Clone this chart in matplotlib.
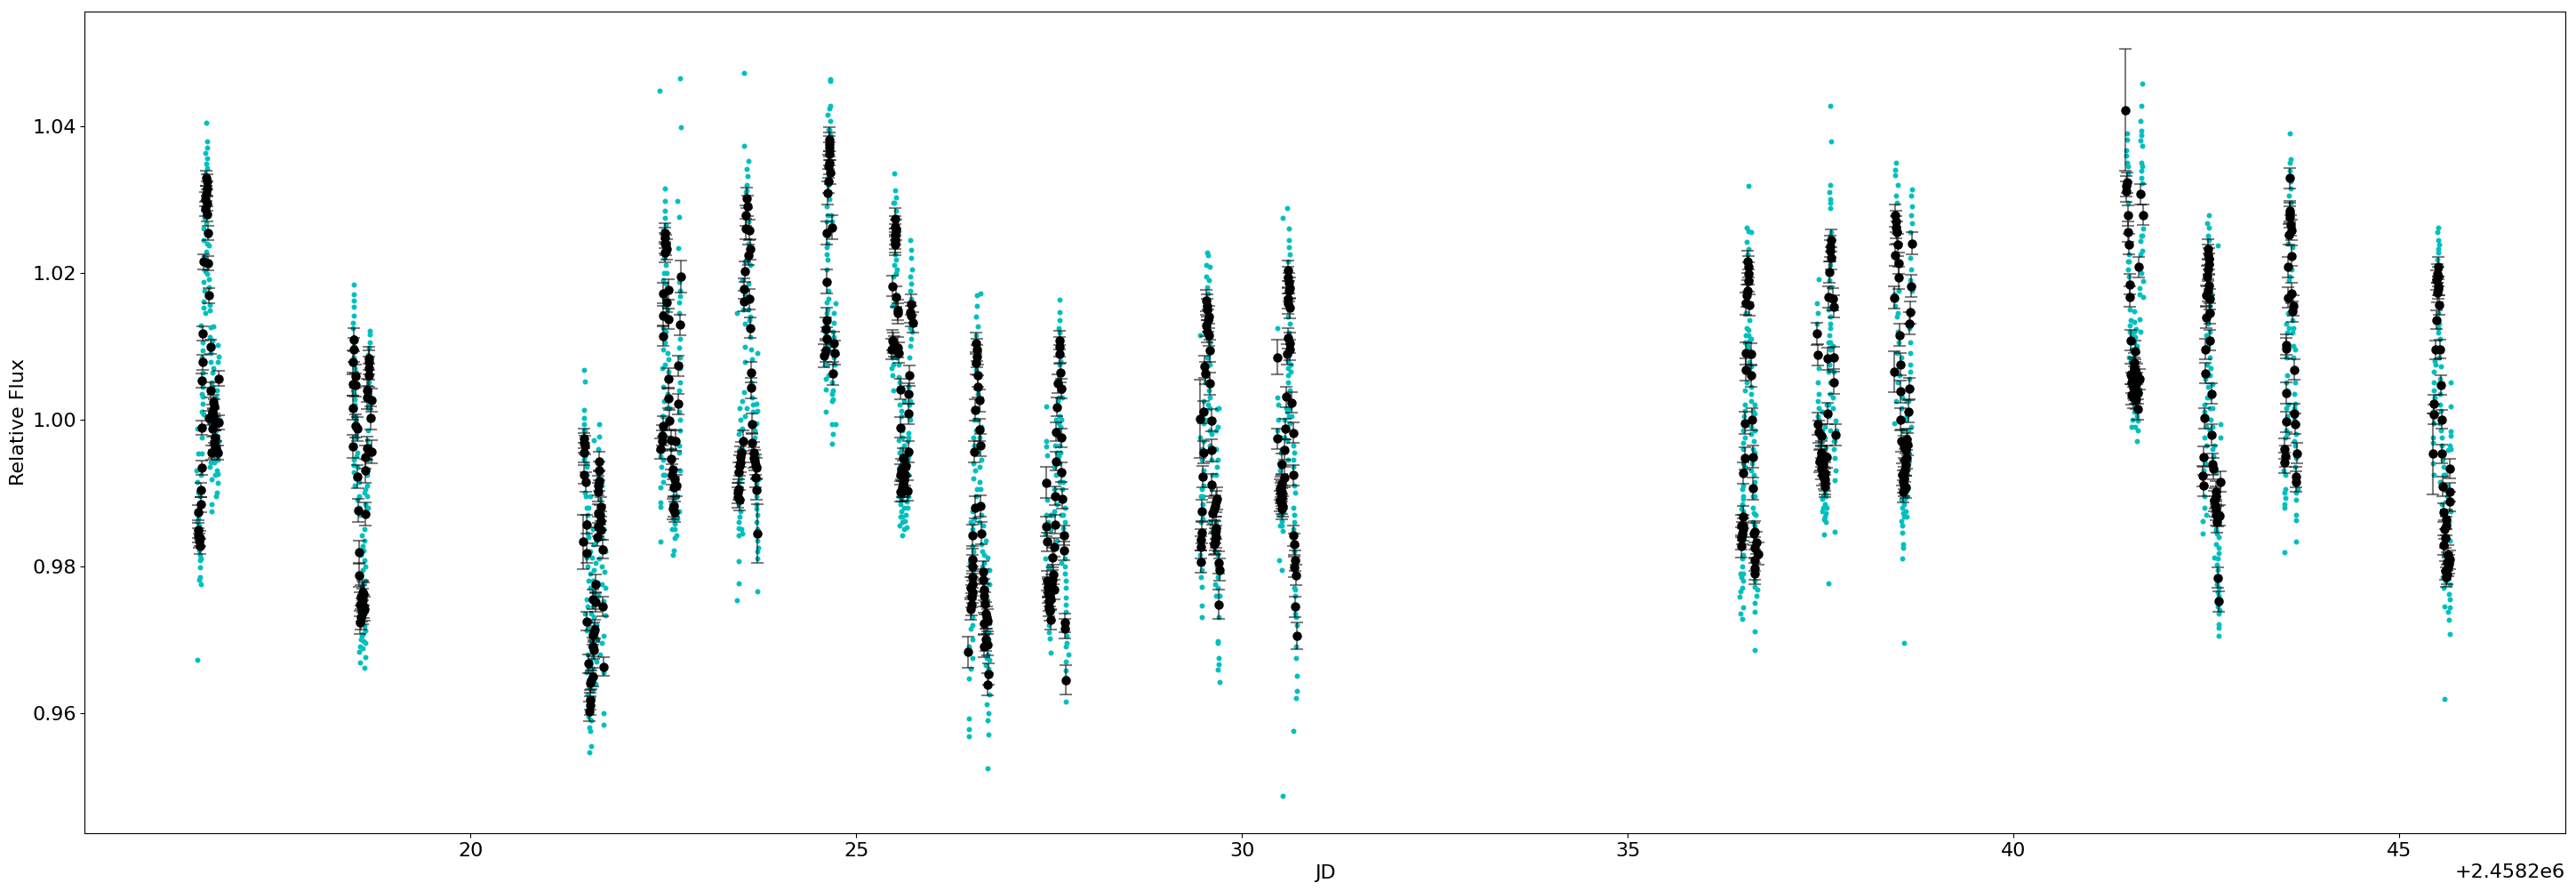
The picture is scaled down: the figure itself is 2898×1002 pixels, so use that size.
import numpy as np
import matplotlib
matplotlib.use("Agg")
import matplotlib.pyplot as plt

# Flat lists of pairs: day (x100, relative to 2458200), flux (x10000)
c16 = [1657,10405,1658,10379,1659,10370,1656,10363,1658,10356,1657,10349,1658,10343,1656,10335,1659,10325,1655,10315,1658,10305,1656,10295,1659,10285,1655,10278,1657,10267,1654,10260,1660,10250,1654,10245,1661,10237,1657,10229,1655,10222,1656,10202,1661,10191,1654,10187,1661,10180,1654,10161,1654,10152,1662,10156,1662,10149,1650,10128,1663,10126,1667,10127,1662,10112,1665,10107,1653,10094,1672,10101,1673,10086,1672,10079,1663,10078,1665,10064,1653,10064,1664,10050,1653,10045,1671,10040,1653,10031,1653,10021,1651,10010,1654,10007,1646,9988,1652,9975,1647,9953,1651,9953,1645,9931,1672,9926,1671,9931,1663,9942,1668,9942,1664,9918,1672,9913,1646,9915,1647,9900,1671,9900,1670,9895,1664,9885,1664,9875,1647,9865,1648,9855,1648,9822,1649,9815,1649,9808,1649,9799,1649,9785,1650,9776,1648,9781,1646,9672,
       1655,10275,1659,10240,1656,10210,1658,10198,1655,10175,1660,10170,1656,10145,1653,10105,1663,10090,1652,10085,1667,10070,1653,10055,1665,10045,1670,10030,1652,10035,1668,10010,1674,10000,1663,9995,1670,9985,1665,9975,1673,9970,1667,9965,1672,9945,1662,9935,1669,9925,1650,9925,1649,9895,1648,9880,1646,9860,1648,9840,1647,9830,1650,9810]
k16 = [1657,10329,1658,10324,1657,10308,1659,10294,1656,10287,1660,10254,1654,10215,1660,10213,1661,10169,1653,10117,1663,10099,1653,10078,1673,10056,1652,10053,1663,10040,1667,10024,1668,10018,1666,10005,1673,9996,1661,10002,1652,9989,1665,9987,1669,9975,1670,9961,1664,9955,1672,9955,1651,9934,1650,9904,1650,9884,1647,9873,1647,9849,1647,9842,1649,9838,1649,9827,
       1658,10315,1656,10300,1658,10280,1665,10010,1669,9995,1668,9968,1668,9958,1648,9835]

c18 = [1849,10184,1849,10171,1849,10162,1849,10153,1849,10142,1847,10132,1847,10124,1869,10121,1869,10116,1869,10105,1868,10098,1848,10112,1850,10095,1867,10088,1850,10070,1848,10050,1849,10035,1868,10035,1867,10015,1850,10020,1851,10005,1849,9992,1868,10000,1848,9975,1852,9975,1867,9985,1868,9965,1852,9950,1849,9945,1867,9945,1853,9935,1849,9928,1866,9925,1855,9915,1850,9910,1866,9910,1862,9900,1866,9895,1853,9890,1864,9885,1867,9880,1857,9870,1862,9850,1859,9842,1862,9835,1860,9828,1858,9815,1862,9808,1864,9800,1858,9785,1860,9775,1862,9762,1861,9748,1859,9735,1862,9718,1860,9708,1858,9700,1863,9695,1857,9690,1860,9688,1856,9683,1864,9676,1857,9669,1862,9661,
       1848,10100,1849,10085,1851,10065,1847,10040,1850,10028,1866,10045,1869,10070,1868,10050,1869,10020,1848,10005,1851,9998,1866,9972,1850,9965,1853,9955,1867,9955,1848,9938,1851,9920,1864,9905,1855,9895,1856,9880,1861,9822,1860,9795,1863,9780,1859,9770,1861,9730,1860,9725,1863,9712,1859,9705,1861,9698]
k18 = [1849,10109,1847,10078,1851,10059,1847,10048,1851,10047,1847,10016,1851,9991,1853,9987,1847,9963,1853,9922,1854,9876,1855,9819,1855,9788,1860,9764,1860,9753,1857,9748,1862,9742,1860,9737,1857,9723,1868,10083,1868,10078,1868,10060,1866,10030,1872,10026,1870,10002,1866,9961,1872,9956,1864,9949,1864,9930,1864,9871,
       1858,9758,1861,9745,1859,9740,1858,9730,1861,9762,1849,10095,1868,10070,1866,10040]

c21 = [2147,10068,2148,10052,2147,10013,2147,10002,2167,9994,2166,9977,2147,9994,2147,9985,2160,9972,2147,9960,2165,9960,2148,9950,2149,9940,2168,9945,2150,9925,2165,9925,2151,9912,2170,9910,2148,9900,2155,9895,2168,9890,2150,9880,2170,9875,2152,9870,2151,9860,2165,9862,2158,9850,2172,9850,2153,9840,2170,9838,2160,9830,2155,9820,2175,9820,2150,9812,2162,9805,2170,9800,2155,9790,2173,9792,2158,9780,2170,9775,2155,9770,2165,9760,2175,9770,2150,9755,2172,9752,2158,9745,2175,9733,2148,9735,2155,9725,2163,9720,2172,9705,2150,9712,2160,9705,2155,9690,2170,9695,2168,9680,2152,9680,2163,9670,2158,9660,2172,9655,2150,9655,2155,9640,2162,9640,2152,9625,2158,9620,2155,9610,2172,9600,2172,9584,2156,9590,2154,9580,2155,9575,2156,9555,2154,9546,
       2148,9985,2149,9965,2147,9945,2150,9935,2167,9935,2169,9920,2166,9905,2149,9895,2153,9880,2167,9865,2166,9850,2152,9845,2163,9835,2157,9812,2167,9810,2152,9800,2160,9795,2153,9780,2164,9778,2160,9765,2152,9745,2156,9735,2160,9730,2153,9715,2164,9700,2156,9698,2158,9675,2153,9660,2160,9650,2154,9635,2157,9630,2155,9600,2153,9595]
k21 = [2147,9974,2147,9968,2147,9955,2147,9925,2149,9915,2150,9857,2150,9818,2166,9943,2167,9930,2167,9916,2165,9901,2169,9881,2165,9872,2169,9862,2165,9854,2169,9849,2164,9840,2171,9823,2162,9776,2158,9755,2162,9751,2171,9745,2151,9725,2161,9714,2158,9706,2160,9686,2153,9667,2172,9663,2158,9649,2155,9641,2155,9618,2154,9602,
       2148,9965,2165,9910,2168,9870,2160,9710,2158,9690,2156,9645,2155,9610]

c22 = [2245,10448,2271,10465,2273,10399,2252,10315,2252,10298,2268,10298,2270,10276,2252,10285,2252,10275,2253,10265,2250,10258,2269,10233,2251,10220,2253,10210,2254,10200,2250,10190,2270,10188,2272,10168,2251,10155,2255,10150,2270,10145,2249,10125,2253,10120,2272,10110,2270,10098,2250,10095,2255,10090,2271,10085,2252,10075,2248,10070,2254,10055,2250,10045,2272,10050,2251,10025,2254,10015,2270,10010,2250,10005,2256,9995,2248,9985,2272,9985,2258,9975,2246,9950,2270,9955,2247,9935,2252,9925,2272,9930,2246,9907,2262,9905,2268,9895,2246,9887,2246,9881,2263,9890,2270,9875,2262,9865,2261,9850,2267,9842,2246,9833,2264,9838,2263,9821,2262,9816,
       2253,10228,2251,10200,2253,10185,2251,10165,2271,10175,2270,10160,2252,10105,2256,10082,2271,10070,2270,10040,2256,10065,2255,10035,2258,10015,2248,10005,2271,10000,2248,9975,2270,9965,2249,9945,2249,9925,2260,9960,2263,9895,2266,9885,2260,9885,2249,9915,2265,9905,2261,9875,2268,9865,2264,9858,2265,9850]
k22 = [2252,10254,2252,10240,2254,10232,2256,10177,2250,10172,2250,10141,2256,10137,2271,10129,2249,10114,2269,10073,2257,10056,2257,10029,2269,10021,2258,9999,2249,9991,2260,9972,2266,9971,2248,9971,2246,9960,2260,9946,2261,9925,2264,9918,2267,9910,2262,9878,2265,9874,
       2252,10248,2253,10238,2252,10228,2254,10160,2248,9978,2262,9932,2263,9908,2263,9882]

c23 = [2354,10472,2354,10373,2360,10352,2358,10341,2359,10332,2358,10320,2357,10310,2360,10240,2355,10215,2362,10210,2352,10190,2360,10185,2353,10150,2345,10145,2362,10140,2356,10130,2363,10112,2356,10099,2372,10090,2356,10079,2365,10082,2364,10050,2354,10037,2365,10030,2352,10025,2370,10022,2349,10015,2366,10010,2356,10005,2350,10000,2372,10012,2370,9995,2352,9988,2348,9980,2368,9975,2352,9960,2372,9950,2350,9920,2373,9918,2348,9885,2370,9885,2350,9875,2372,9870,2347,9860,2370,9860,2351,9850,2352,9845,2347,9842,2372,9835,2373,9825,2372,9810,2347,9807,2347,9777,2372,9766,2345,9753,
       2358,10312,2360,10270,2359,10215,2356,10170,2360,10150,2361,10135,2364,10095,2358,10015,2366,10020,2350,9985,2368,9985,2349,9960,2366,9970,2348,9915,2370,9912,2349,9895,2371,9895,2371,9878,2349,9868,2372,9850,2348,9852,2370,9842,2372,9820]
k23 = [2358,10302,2359,10291,2357,10278,2357,10260,2361,10258,2362,10232,2360,10224,2356,10202,2354,10178,2354,10161,2361,10164,2363,10125,2364,10064,2364,10043,2365,9994,2353,9971,2365,9968,2350,9949,2367,9955,2368,9944,2349,9937,2348,9928,2370,9934,2369,9921,2371,9904,2346,9900,2346,9894,
       2351,9955,2350,9942,2367,9948,2369,9938,2348,9905,2349,9890]

c24 = [2466,10464,2466,10462,2466,10427,2465,10424,2463,10415,2466,10407,2465,10395,2466,10388,2464,10320,2462,10290,2463,10278,2462,10270,2467,10278,2468,10270,2463,10240,2461,10225,2463,10218,2462,10205,2464,10165,2461,10160,2473,10158,2471,10145,2463,10150,2461,10130,2471,10132,2470,10120,2471,10112,2460,10115,2465,10100,2472,10075,2459,10075,2464,10060,2468,10050,2460,10041,2470,10040,2470,10027,2469,10025,2460,10010,2469,9994,2473,9993,2470,9980,2469,9967,
       2464,10395,2465,10380,2464,10330,2465,10300,2463,10250,2462,10235,2464,10175,2462,10145,2461,10105,2471,10085,2460,10055,2469,10035,2461,10075]
k24 = [2465,10375,2465,10370,2464,10345,2466,10337,2463,10309,2468,10262,2461,10254,2462,10188,2461,10136,2460,10123,2471,10104,2460,10094,2472,10091,2458,10087,2470,10063,
       2465,10382,2465,10362,2465,10350,2464,10325,2462,10110]

c25 = [2549,10336,2550,10312,2551,10303,2548,10295,2551,10285,2550,10225,2552,10218,2549,10210,2553,10205,2548,10195,2570,10244,2571,10231,2571,10220,2572,10205,2570,10195,2571,10185,2570,10175,2547,10155,2572,10120,2571,10110,2570,10100,2547,10085,2555,10075,2546,10070,2569,10085,2555,10058,2568,10045,2548,10040,2562,10025,2570,10025,2556,10020,2570,10000,2558,10005,2559,9985,2567,9982,2555,9972,2568,9975,2562,9965,2558,9960,2568,9950,2556,9935,2568,9925,2555,9895,2567,9895,2557,9885,2565,9888,2558,9875,2564,9870,2560,9860,2556,9855,2565,9853,2562,9850,2559,9842,
       2549,10295,2551,10270,2552,10200,2550,10160,2571,10165,2570,10125,2548,10075,2553,10085,2547,10060,2556,10050,2569,10020,2558,10012,2560,9975,2566,9970,2556,9955,2560,9942,2566,9945,2560,9895,2562,9880,2558,9890,2566,9880,2557,9868,2560,9868,2563,9862]
k25 = [2550,10274,2550,10263,2550,10252,2550,10242,2550,10238,2547,10182,2552,10167,2554,10149,2554,10145,2571,10157,2570,10146,2571,10141,2573,10132,2547,10108,2546,10096,2554,10098,2555,10091,2569,10060,2557,10041,2567,10035,2568,10008,2557,9989,2567,9956,2561,9947,2564,9937,2557,9925,2563,9924,2561,9914,2557,9902,2566,9903,2560,9902,
       2551,10258,2550,10246,2548,10105,2549,10100,2558,9932,2561,9930,2562,9908,2559,9908,2562,9918]

c26 = [2661,10172,2656,10169,2656,10155,2655,10140,2657,10127,2655,10115,2653,10000,2656,10010,2660,10030,2656,10000,2662,9990,2653,9965,2652,9940,2662,9945,2652,9920,2660,9915,2655,9895,2650,9875,2662,9870,2648,9860,2664,9855,2650,9850,2651,9828,2668,9835,2652,9820,2663,9820,2670,9812,2647,9805,2665,9805,2652,9795,2672,9795,2668,9782,2650,9775,2672,9775,2650,9730,2672,9722,2648,9715,2668,9710,2651,9700,2671,9700,2646,9690,2670,9680,2672,9672,2648,9660,2668,9665,2646,9647,2672,9625,2669,9612,2671,9600,2670,9590,2646,9592,2646,9578,2671,9570,2646,9568,2670,9525,
       2657,10095,2655,10068,2657,10035,2658,10015,2660,9975,2655,9985,2652,9975,2658,9955,2660,9935,2654,9930,2661,9905,2656,9905,2653,9865,2660,9860,2651,9858,2662,9830,2650,9795,2665,9815,2663,9800,2652,9755,2669,9755,2671,9710,2650,9720,2668,9698,2650,9675,2669,9675,2671,9660]
k26 = [2655,10104,2656,10086,2655,10077,2658,10060,2657,10045,2660,10026,2654,10013,2660,9986,2653,9956,2661,9965,2661,9882,2654,9880,2651,9842,2662,9845,2651,9809,2664,9792,2651,9785,2664,9781,2648,9770,2665,9768,2649,9759,2667,9749,2648,9742,2668,9736,2670,9726,2666,9722,2670,9693,2665,9691,2671,9653,2670,9639,
       2650,9775,2649,9748,2650,9765,2666,9760,2669,9730,2668,9700,2656,10095,2651,9800]

c27 = [2764,10163,2763,10146,2764,10135,2762,10125,2763,10118,2764,10075,2767,10030,2762,10030,2746,10018,2766,10000,2762,9995,2760,9985,2763,9965,2746,9971,2746,9963,2758,9965,2747,9951,2762,9950,2764,9940,2757,9935,2763,9915,2768,9915,2756,9905,2767,9905,2747,9890,2770,9880,2768,9870,2746,9870,2752,9870,2770,9860,2745,9845,2768,9852,2750,9835,2760,9835,2770,9810,2745,9810,2752,9800,2770,9800,2755,9790,2772,9780,2771,9770,2747,9758,2771,9757,2771,9748,2772,9738,2750,9720,2773,9705,2751,9702,2773,9695,2752,9682,2775,9680,2772,9670,2771,9658,2772,9648,2772,9615,
       2762,10110,2765,10080,2763,10055,2761,10025,2764,10005,2759,10000,2765,9990,2762,9975,2760,9955,2765,9955,2759,9925,2767,9925,2760,9885,2756,9875,2766,9870,2748,9860,2755,9870,2752,9850,2766,9805,2748,9800,2770,9790,2751,9750,2754,9740,2748,9735,2750,9710,2771,9690]
k27 = [2763,10108,2763,10099,2764,10089,2765,10064,2761,10049,2766,10042,2760,10017,2759,9983,2766,9975,2759,9943,2766,9928,2758,9896,2767,9892,2746,9854,2758,9857,2769,9842,2747,9833,2757,9826,2769,9821,2754,9812,2755,9789,2747,9780,2753,9776,2749,9763,2756,9768,2750,9745,2751,9739,2752,9727,2770,9723,2770,9715,
       2749,9772,2752,9755,2750,9752,2754,9782,2748,9770,2751,9758]

c29 = [2955,10228,2956,10224,2954,10210,2958,10208,2954,10195,2957,10190,2955,10180,2956,10172,2945,10115,2958,10105,2955,10085,2958,10030,2950,10025,2956,10020,2948,10010,2958,10015,2970,10015,2967,10014,2950,9995,2969,9990,2958,9985,2966,9985,2946,9975,2950,9970,2958,9965,2966,9960,2948,9945,2968,9945,2967,9935,2950,9930,2966,9925,2948,9905,2960,9905,2947,9895,2949,9885,2958,9860,2965,9820,2946,9815,2967,9800,2947,9785,2970,9790,2948,9772,2965,9775,2948,9746,2966,9760,2968,9750,2970,9745,2948,9731,2970,9730,2968,9698,2969,9695,2970,9675,2970,9666,2969,9659,2971,9642,
       2956,10085,2958,10075,2952,10050,2957,10040,2951,10000,2956,10000,2960,9980,2948,9960,2960,9945,2950,9910,2962,9925,2949,9895,2962,9850,2966,9860,2947,9860,2949,9865,2968,9815,2948,9795,2969,9785,2968,9770,2971,9760]
k29 = [2954,10162,2955,10150,2957,10140,2954,10128,2957,10115,2958,10094,2951,10072,2952,10063,2958,10049,2950,10010,2960,9999,2950,9955,2961,9958,2949,9922,2961,9911,2967,9892,2965,9882,2948,9875,2962,9872,2948,9846,2965,9846,2947,9836,2965,9837,2947,9826,2965,9832,2947,9806,2970,9805,2971,9795,
       2955,10155,2956,10135,2955,10120,2966,9888,2964,9878,2966,9852,2966,9840,2964,9830]

c30 = [3058,10288,3053,10275,3061,10260,3061,10245,3061,10235,3062,10225,3060,10215,3062,10130,3046,10125,3060,10080,3063,10065,3046,10030,3060,10050,3062,10040,3047,10020,3058,10010,3064,10005,3047,10000,3055,10000,3062,9995,3046,9985,3058,9970,3066,9965,3050,9955,3068,9955,3048,9940,3060,9945,3066,9935,3068,9910,3048,9900,3069,9900,3048,9870,3067,9880,3052,9862,3049,9855,3053,9848,3068,9860,3066,9850,3048,9808,3068,9820,3069,9768,3051,9795,3069,9760,3070,9730,3071,9720,3070,9690,3070,9675,3071,9650,3071,9630,3070,9620,3067,9575,3053,9487,
       3060,10140,3061,10118,3063,10075,3060,10070,3059,10060,3062,10015,3057,10015,3061,10005,3050,9975,3055,9975,3052,9960,3066,9945,3049,9930,3068,9925,3051,9870,3054,9875,3049,9870,3052,9855,3068,9870,3069,9790,3068,9770,3069,9735,3071,9705]
k30 = [3060,10203,3060,10194,3061,10186,3062,10179,3059,10158,3062,10152,3060,10111,3062,10104,3062,10095,3058,10089,3057,10031,3064,10023,3056,9987,3066,9982,3046,9974,3055,9959,3052,9939,3066,9924,3055,9921,3051,9912,3049,9905,3052,9896,3049,9889,3053,9881,3051,9885,3067,9842,3068,9830,3069,9808,3068,9799,3070,9788,3069,9745,
       3061,10175,3060,10165,3050,9900,3052,9892,3050,9908,3051,9878,3052,9902]

c36 = [3656,10319,3654,10261,3657,10257,3660,10255,3654,10242,3656,10232,3655,10225,3653,10145,3658,10135,3654,10125,3657,10115,3652,10105,3660,10110,3655,10100,3660,10072,3654,10050,3660,10045,3652,10020,3660,10025,3664,10020,3652,10012,3665,10008,3660,9980,3652,9975,3663,9970,3650,9960,3665,9955,3652,9935,3660,9930,3650,9910,3663,9925,3650,9895,3665,9895,3648,9885,3662,9880,3650,9875,3666,9870,3647,9878,3648,9868,3662,9860,3664,9855,3650,9835,3648,9810,3648,9800,3646,9790,3665,9780,3664,9772,3649,9780,3648,9770,3646,9766,3668,9768,3667,9760,3645,9759,3665,9750,3650,9744,3665,9738,3646,9736,3648,9728,3664,9711,3664,9686,
       3654,10145,3656,10122,3658,10108,3653,10115,3656,10095,3658,10078,3652,10040,3660,10035,3651,10005,3662,10012,3660,9990,3650,9985,3664,9985,3650,9968,3662,9960,3649,9940,3661,9940,3650,9925,3664,9915,3648,9905,3662,9895,3649,9892,3663,9872,3665,9820,3648,9825,3649,9815,3663,9810,3649,9790,3666,9790,3647,9785]
k36 = [3655,10215,3656,10199,3656,10189,3654,10169,3653,10158,3658,10156,3653,10090,3660,10089,3653,10068,3660,10060,3652,9995,3661,10000,3652,9947,3662,9949,3650,9927,3662,9906,3649,9867,3647,9855,3650,9855,3648,9845,3647,9827,3665,9847,3663,9844,3667,9832,3669,9817,3665,9797,3664,9790,
       3656,10208,3655,10175,3647,9838,3649,9850,3664,9825,3665,9808]

c37 = [3763,10427,3764,10379,3763,10320,3761,10310,3763,10300,3762,10295,3763,10288,3764,10255,3762,10250,3761,10190,3747,10191,3763,10180,3762,10140,3745,10158,3746,10145,3763,10130,3761,10115,3745,10130,3763,10105,3766,10100,3747,10070,3760,10065,3767,10065,3746,10050,3748,10035,3746,10025,3766,10030,3758,10020,3748,10015,3752,10010,3760,10005,3748,10000,3756,9990,3769,9998,3770,9985,3752,9985,3768,9970,3756,9975,3767,9960,3768,9948,3769,9930,3768,9917,3755,9900,3752,9892,3756,9885,3752,9875,3758,9880,3754,9864,3757,9860,3768,9847,3754,9843,3760,9777,
       3763,10210,3760,10150,3762,10125,3760,10105,3763,10095,3761,10075,3762,10050,3763,10035,3760,10020,3766,10015,3746,10005,3762,9985,3750,9968,3757,9962,3767,9970,3749,9965,3755,9940,3753,9895,3757,9895,3755,9868,3753,9880,3757,9872]
k37 = [3764,10244,3763,10236,3762,10230,3764,10220,3761,10201,3760,10167,3766,10164,3767,10154,3745,10117,3746,10088,3759,10083,3767,10084,3767,10050,3759,10008,3746,9994,3747,9983,3769,9979,3751,9978,3751,9955,3758,9949,3749,9943,3751,9933,3756,9927,3755,9918,3755,9909,
       3750,9945,3752,9925,3753,9938,3751,9950,3754,9920,3756,9913]

c38 = [3858,9696,3848,10350,3847,10340,3847,10333,3850,10320,3868,10313,3867,10305,3848,10305,3849,10295,3868,10290,3867,10278,3868,10268,3866,10255,3866,10220,3867,10205,3847,10155,3845,10170,3866,10190,3868,10175,3850,10145,3865,10125,3850,10120,3849,10090,3866,10105,3866,10090,3855,10085,3866,10065,3850,10050,3848,10025,3865,10055,3856,10030,3862,10025,3860,10000,3845,9995,3867,9990,3864,9985,3862,9962,3860,9950,3864,9940,3857,9900,3862,9895,3858,9885,3860,9875,3856,9880,3861,9868,3855,9862,3856,9855,3856,9846,3857,9830,3857,9825,3856,9811,
       3851,10175,3849,10140,3851,10105,3866,10075,3852,10060,3864,10025,3855,10015,3862,10005,3856,9985,3858,9960,3864,9955,3856,9945,3861,9925,3859,9892,3863,9905,3855,9890,3858,9868,3857,9872]
k38 = [3847,10278,3848,10262,3850,10238,3847,10224,3851,10213,3851,10193,3868,10240,3867,10182,3845,10166,3866,10146,3865,10131,3852,10115,3853,10075,3853,10038,3865,10042,3864,10011,3854,10000,3855,9971,3862,9973,3863,9966,3861,9948,3860,9938,3856,9925,3858,9910,3857,9902,
       3848,10270,3849,10255,3860,9958,3858,9963,3859,9930,3858,9920,3859,9945,3857,9915,3860,9908]

c41 = [4167,10458,4166,10427,4164,10407,4166,10393,4166,10387,4165,10380,4167,10373,4166,10350,4167,10345,4166,10339,4166,10329,4167,10322,4147,10390,4147,10381,4146,10367,4146,10360,4147,10350,4148,10345,4168,10260,4167,10250,4165,10243,4167,10230,4150,10225,4165,10225,4148,10215,4149,10205,4150,10195,4168,10189,4163,10179,4168,10167,4163,10170,4151,10150,4157,10147,4163,10137,4157,10133,4151,10128,4159,10123,4165,10120,4153,10115,4158,10112,4150,10085,4152,10078,4160,10005,4154,10000,4161,9998,4153,9990,4158,9990,4161,9985,4160,9971,
       4148,10335,4149,10295,4166,10250,4150,10215,4166,10200,4152,10135,4153,10095,4156,10105,4151,10120,4160,10100,4157,10120,4160,10070,4155,10085,4163,10040,4158,10020,4156,10010]
k41 = [4147,10323,4146,10318,4146,10311,4148,10278,4148,10256,4150,10239,4151,10184,4151,10167,4165,10307,4168,10279,4162,10208,4152,10108,4158,10093,4157,10077,4152,10062,4160,10062,4163,10055,4153,10050,4155,10043,4153,10034,4161,10036,4159,10028,4161,10014,
       4158,10068,4156,10058,4159,10048,4157,10040,4160,10050,4155,10030,4158,10035,4156,10070]

c42 = [4253,10278,4251,10267,4253,10262,4252,10250,4265,10237,4253,10245,4254,10225,4250,10195,4257,10170,4252,10130,4255,10120,4250,10115,4254,10085,4251,10075,4256,10070,4249,10055,4252,10045,4258,10048,4255,10030,4248,10020,4258,10015,4248,10010,4255,10015,4250,9990,4258,9990,4268,9994,4254,9985,4268,9975,4260,9965,4247,9975,4250,9965,4246,9930,4262,9928,4247,9895,4248,9880,4250,9870,4245,9861,4245,9844,4262,9848,4266,9840,4263,9830,4266,9825,4260,9812,4266,9818,4264,9802,4265,9795,4266,9770,4265,9765,4266,9735,4266,9721,4266,9716,4266,9705,
       4252,10190,4255,10180,4254,10155,4252,10100,4254,10060,4251,10030,4256,10000,4258,9960,4249,9940,4259,9950,4248,9910,4262,9850,4264,9845,4265,9810,4264,9775,4266,9760,4265,9745,4267,9740]
k42 = [4252,10232,4253,10219,4252,10205,4253,10183,4250,10169,4254,10164,4255,10145,4250,10139,4255,10108,4249,10096,4249,10063,4257,10035,4247,10002,4257,9979,4246,9949,4258,9939,4259,9933,4245,9923,4268,9915,4246,9910,4262,9902,4261,9892,4260,9889,4262,9877,4267,9869,4264,9860,4265,9784,4266,9752,
       4252,10225,4253,10212,4251,10195,4252,10175,4262,9895,4261,9882,4263,9870,4265,9868]

c43 = [4358,10390,4359,10355,4358,10350,4358,10339,4359,10325,4357,10305,4359,10295,4356,10240,4362,10235,4357,10190,4356,10145,4362,10135,4354,10130,4363,10125,4355,10118,4362,10118,4354,10085,4363,10100,4355,10060,4365,10095,4354,10050,4365,10050,4356,10020,4365,10022,4354,10015,4364,10000,4355,9980,4366,9980,4352,9975,4364,9970,4350,9930,4352,9905,4351,9900,4368,9905,4352,9893,4366,9900,4351,9885,4366,9890,4351,9880,4366,9870,4366,9863,4351,9819,4366,9833,
       4359,10315,4358,10270,4360,10205,4358,10195,4357,10125,4363,10085,4355,10040,4364,10035,4355,10005,4364,10015,4353,9985,4365,9965,4352,9950,4366,9948,4352,9925,4365,9935]
k43 = [4358,10329,4358,10284,4358,10281,4360,10258,4357,10252,4360,10223,4356,10208,4361,10172,4356,10166,4363,10155,4362,10147,4354,10102,4353,10097,4364,10068,4353,10036,4364,10008,4353,9997,4365,9994,4351,9960,4367,9954,4351,9941,4366,9922,4366,9915,
       4358,10276,4359,10265,4352,9950]

c45 = [4550,10261,4549,10255,4550,10244,4552,10238,4550,10232,4551,10227,4549,10218,4552,10130,4551,10118,4553,10110,4547,10075,4554,10072,4545,10065,4553,10055,4545,10050,4545,10040,4553,10035,4546,10030,4553,10020,4544,10010,4554,10012,4553,9995,4567,10050,4567,10018,4567,9984,4567,9978,4567,9960,4563,9958,4544,9975,4555,9975,4544,9968,4565,9965,4544,9940,4545,9925,4553,9915,4558,9925,4562,9910,4555,9885,4567,9875,4560,9780,4556,9785,4565,9775,4558,9770,4564,9762,4565,9755,4559,9745,4565,9744,4563,9738,4564,9727,4565,9708,4559,9619,
       4551,10145,4550,10125,4552,10085,4546,10080,4553,10000,4545,9995,4554,9985,4555,9965,4556,9945,4558,9935,4557,9905,4560,9925,4562,9895,4564,9860,4562,9840,4558,9815,4565,9835]
k45 = [4550,10208,4549,10199,4548,10190,4551,10182,4549,10173,4552,10156,4548,10136,4547,10095,4553,10096,4554,10047,4545,10021,4545,10007,4555,10000,4555,9953,4566,9933,4556,9909,4566,9901,4565,9888,4558,9873,4561,9864,4561,9855,4560,9838,4558,9829,4563,9816,4565,9809,4563,9799,4560,9794,4562,9789,
       4550,10195,4550,10178,4562,9806,4561,9785,4564,9803,4559,9850]

# Points with a wider error bar: day, flux, error (x10000)
wide_x = [4145,2146,2746,2772,2945,3046,3071,2970,4544,2273,2372,2645,3845]
wide_y = [10422,9833,9914,9645,10001,10085,9705,9748,9953,10195,9844,9683,10065]
wide_e = [83,37,21,20,53,24,18,20,55,22,40,21,28]

cyan_sets = [c16,c18,c21,c22,c23,c24,c25,c26,c27,c29,c30,c36,c37,c38,c41,c42,c43,c45]
black_sets = [k16,k18,k21,k22,k23,k24,k25,k26,k27,k29,k30,k36,k37,k38,k41,k42,k43,k45]
black_err = [10,16,13,14,14,16,14,15,13,15,14,15,15,15,14,14,14,13]

X0 = 2458200

plt.rcParams['font.family'] = 'DejaVu Sans'
fig = plt.figure(figsize=(28.98, 10.02), dpi=100)
ax = fig.add_axes([95.5/2898, 1-937/1002, (2885.7-95.5)/2898, (937-13)/1002])

for c in cyan_sets:
    ax.plot(X0 + np.array(c[0::2])/100, np.array(c[1::2])/1e4, 'c.', ms=6.5, zorder=2)

ekw = dict(fmt='ko', ms=6.5, ecolor=(0, 0, 0, 0.5), elinewidth=1.5, capsize=5, capthick=1.5, zorder=3)
for k, e in zip(black_sets, black_err):
    ax.errorbar(X0 + np.array(k[0::2])/100, np.array(k[1::2])/1e4, yerr=e/1e4, **ekw)
ax.errorbar(X0 + np.array(wide_x)/100, np.array(wide_y)/1e4, yerr=np.array(wide_e)/1e4, **ekw)

ax.set_xlim(X0 + 15.0, X0 + 47.15)
ax.set_ylim(0.9436, 1.0556)
ax.set_yticks([0.96, 0.98, 1.00, 1.02, 1.04])
ax.set_xticks([X0 + v for v in [20, 25, 30, 35, 40, 45]])
ax.set_xlabel('JD', fontsize=16)
ax.set_ylabel('Relative Flux', fontsize=16)
ax.tick_params(labelsize=16)
ax.xaxis.get_offset_text().set_fontsize(16)

fig.savefig('out.png', dpi=100)
